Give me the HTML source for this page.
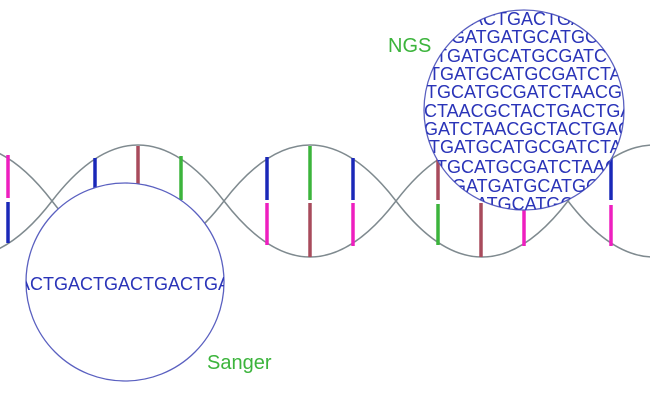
<!DOCTYPE html>
<html><head><meta charset="utf-8"><style>
html,body{margin:0;padding:0;background:#fff;}
svg{display:block;}
text{font-family:"Liberation Sans",Arial,sans-serif;}
</style></head><body>
<svg width="650" height="400" viewBox="0 0 650 400" xmlns="http://www.w3.org/2000/svg">
<defs>
<clipPath id="cs"><circle cx="125" cy="282" r="99"/></clipPath>
<clipPath id="cn"><circle cx="524" cy="110" r="100"/></clipPath>
</defs>
<g fill="none" stroke="#7f8a8f" stroke-width="1.5">
<path d="M-120 201 C-62.7 126.3,-5.3 126.3,52 201 C109.3 126.3,166.7 126.3,224 201 C281.3 126.3,338.7 126.3,396 201 C453.3 126.3,510.7 126.3,568 201 C625.3 126.3,682.7 126.3,740 201"/>
<path d="M-120 201 C-62.7 275.7,-5.3 275.7,52 201 C109.3 275.7,166.7 275.7,224 201 C281.3 275.7,338.7 275.7,396 201 C453.3 275.7,510.7 275.7,568 201 C625.3 275.7,682.7 275.7,740 201"/>
</g>
<g stroke-width="3.5">
<line x1="8" y1="155" x2="8" y2="198" stroke="#ee1fbf"/>
<line x1="8" y1="202" x2="8" y2="243" stroke="#1a28b8"/>
<line x1="95" y1="158" x2="95" y2="200" stroke="#1a28b8"/>
<line x1="138" y1="146" x2="138" y2="200" stroke="#a84b5c"/>
<line x1="181" y1="156" x2="181" y2="200" stroke="#3cb43c"/>
<line x1="267" y1="157" x2="267" y2="200" stroke="#1a28b8"/>
<line x1="267" y1="203" x2="267" y2="245" stroke="#ee1fbf"/>
<line x1="310" y1="146" x2="310" y2="200" stroke="#3cb43c"/>
<line x1="310" y1="203" x2="310" y2="257" stroke="#a84b5c"/>
<line x1="353" y1="158" x2="353" y2="200" stroke="#1a28b8"/>
<line x1="353" y1="203" x2="353" y2="246" stroke="#ee1fbf"/>
<line x1="438" y1="157" x2="438" y2="200" stroke="#a84b5c"/>
<line x1="438" y1="204" x2="438" y2="245" stroke="#3cb43c"/>
<line x1="481" y1="146" x2="481" y2="200" stroke="#3cb43c"/>
<line x1="481" y1="203" x2="481" y2="257" stroke="#a84b5c"/>
<line x1="524" y1="158" x2="524" y2="200" stroke="#1a28b8"/>
<line x1="524" y1="203" x2="524" y2="246" stroke="#ee1fbf"/>
<line x1="611" y1="158" x2="611" y2="200" stroke="#1a28b8"/>
<line x1="611" y1="205" x2="611" y2="246" stroke="#ee1fbf"/>
</g>
<circle cx="125" cy="282" r="99" fill="#fff" stroke="#5a60c0" stroke-width="1.3"/>
<g clip-path="url(#cs)"><text x="18" y="290" font-size="18" fill="#2a34b8">ACTGACTGACTGACTGACTGACTGA</text></g>
<circle cx="524" cy="110" r="100" fill="#fff" stroke="#5a60c0" stroke-width="1.3"/>
<g clip-path="url(#cn)" font-size="18" fill="#2a34b8">
<text x="446" y="25">TGACTGACTGACT</text>
<text x="451" y="43">GATGATGCATGCCG</text>
<text x="436" y="62">TGATGCATGCGATCTAC</text>
<text x="429" y="80">TGATGCATGCGATCTAACG</text>
<text x="426" y="98">TGCATGCGATCTAACGCTAC</text>
<text x="424" y="117">CTAACGCTACTGACTGACTG</text>
<text x="424" y="135">GATCTAACGCTACTGACTGA</text>
<text x="429" y="153">TGATGCATGCGATCTAACG</text>
<text x="436" y="173">TGCATGCGATCTAACCG</text>
<text x="452" y="192">GATGATGCATGCCG</text>
<text x="462" y="210">GATGCATGC</text>
</g>
<text x="388" y="52" font-size="20" fill="#3cb43c">NGS</text>
<text x="207" y="369" font-size="20" fill="#3cb43c">Sanger</text>
</svg>
</body></html>
